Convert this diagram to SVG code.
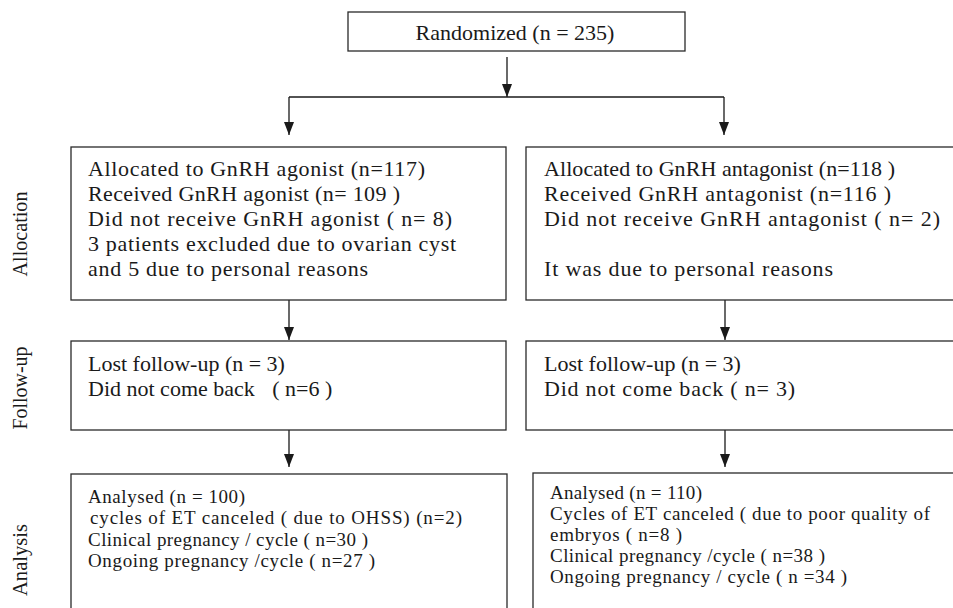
<svg xmlns="http://www.w3.org/2000/svg" width="953" height="608" viewBox="0 0 953 608">
<style>
.box{fill:#fff;stroke:#2a2a2a;stroke-width:1.3}
.t{font-family:"Liberation Serif","Times New Roman",serif;fill:#1a1a1a;font-size:22px}
.s{font-size:19px}
.l{font-size:20px}
.c{stroke:#1a1a1a;stroke-width:1.3;fill:none}
</style>
<defs>
<marker id="ah" viewBox="0 0 13 10" refX="13" refY="5" markerWidth="13" markerHeight="10" markerUnits="userSpaceOnUse" orient="auto">
<path d="M0,0 L13,5 L0,10 z" fill="#1a1a1a"/>
</marker>
</defs>
<rect width="953" height="608" fill="#fff"/>
<g id="labels">
<text class="t l" text-anchor="middle" transform="translate(27,234) rotate(-90)" textLength="85" lengthAdjust="spacingAndGlyphs">Allocation</text>
<text class="t l" text-anchor="middle" transform="translate(27,388) rotate(-90)" textLength="83" lengthAdjust="spacingAndGlyphs">Follow-up</text>
<text class="t l" text-anchor="middle" transform="translate(27,560) rotate(-90)" textLength="72" lengthAdjust="spacingAndGlyphs">Analysis</text>
</g>
<g id="connectors">
<path class="c" d="M507,57 V97" marker-end="url(#ah)"/>
<path class="c" d="M289,97 H724"/>
<path class="c" d="M289,97 V135" marker-end="url(#ah)"/>
<path class="c" d="M724,97 V135" marker-end="url(#ah)"/>
<path class="c" d="M289,300 V340" marker-end="url(#ah)"/>
<path class="c" d="M725,300 V340" marker-end="url(#ah)"/>
<path class="c" d="M289,430 V467" marker-end="url(#ah)"/>
<path class="c" d="M725,430 V467" marker-end="url(#ah)"/>
</g>
<g id="randomized">
<rect class="box" x="348" y="12" width="337" height="39"/>
<text class="t" x="515" y="40" text-anchor="middle">Randomized (n = 235)</text>
</g>
<g id="alloc-agonist">
<rect class="box" x="71" y="147" width="435" height="153"/>
<text class="t" x="88" y="176" textLength="337">Allocated to GnRH agonist (n=117)</text>
<text class="t" x="88" y="201" textLength="312">Received GnRH agonist (n= 109 )</text>
<text class="t" x="88" y="226" textLength="364">Did not receive GnRH agonist ( n= 8)</text>
<text class="t" x="88" y="251" textLength="368">3 patients excluded due to ovarian cyst</text>
<text class="t" x="88" y="276" textLength="280">and 5 due to personal reasons</text>
</g>
<g id="alloc-antagonist">
<rect class="box" x="526" y="147" width="440" height="153"/>
<text class="t" x="544" y="176" textLength="351">Allocated to GnRH antagonist (n=118 )</text>
<text class="t" x="544" y="201" textLength="347">Received GnRH antagonist (n=116 )</text>
<text class="t" x="544" y="226" textLength="396">Did not receive GnRH antagonist ( n= 2)</text>
<text class="t" x="544" y="276" textLength="289">It was due to personal reasons</text>
</g>
<g id="followup-agonist">
<rect class="box" x="71" y="341" width="435" height="89"/>
<text class="t" x="88" y="371">Lost follow-up (n = 3)</text>
<text class="t" x="88" y="396">Did not come back <tspan dx="12">( n=6 )</tspan></text>
</g>
<g id="followup-antagonist">
<rect class="box" x="526" y="341" width="440" height="89"/>
<text class="t" x="544" y="371">Lost follow-up (n = 3)</text>
<text class="t" x="544" y="396" textLength="251">Did not come back ( n= 3)</text>
</g>
<g id="analysis-agonist">
<rect class="box" x="71" y="474" width="436" height="150"/>
<text class="t s" x="88" y="503" textLength="157">Analysed (n = 100)</text>
<text class="t s" x="90" y="524" textLength="372">cycles of ET canceled ( due to OHSS) (n=2)</text>
<text class="t s" x="88" y="546" textLength="280">Clinical pregnancy / cycle ( n=30 )</text>
<text class="t s" x="88" y="567" textLength="287">Ongoing pregnancy /cycle ( n=27 )</text>
</g>
<g id="analysis-antagonist">
<rect class="box" x="533" y="473" width="440" height="150"/>
<text class="t s" x="550" y="499" textLength="152">Analysed (n = 110)</text>
<text class="t s" x="550" y="520" textLength="380">Cycles of ET canceled ( due to poor quality of</text>
<text class="t s" x="550" y="541" textLength="132">embryos ( n=8 )</text>
<text class="t s" x="550" y="562" textLength="275">Clinical pregnancy /cycle ( n=38 )</text>
<text class="t s" x="550" y="583" textLength="297">Ongoing pregnancy / cycle ( n =34 )</text>
</g>
</svg>
